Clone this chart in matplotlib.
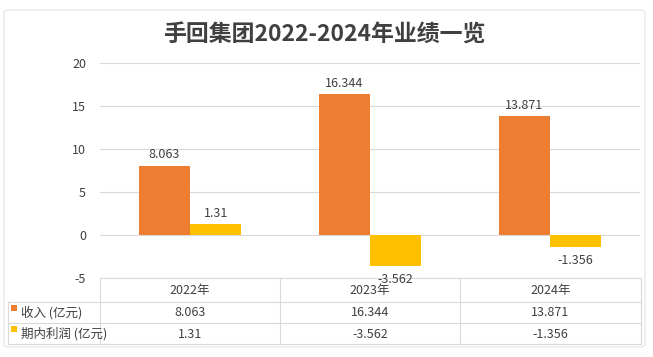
import matplotlib
matplotlib.use("Agg")
import matplotlib.pyplot as plt
import numpy as np
from matplotlib.patches import FancyBboxPatch, Rectangle
from matplotlib.lines import Line2D

plt.rcParams['font.family'] = ['Noto Sans CJK SC', 'DejaVu Sans']

title = "手回集团2022-2024年业绩一览"
categories = ["2022年", "2023年", "2024年"]
series_names = ["收入 (亿元)", "期内利润 (亿元)"]
revenue = [8.063, 16.344, 13.871]
profit = [1.31, -3.562, -1.356]
revenue_labels = ["8.063", "16.344", "13.871"]
profit_labels = ["1.31", "-3.562", "-1.356"]
yticks = [-5, 0, 5, 10, 15, 20]

ORANGE = "#ED7D31"
YELLOW = "#FFC000"
TEXT = "#404040"
GRID = "#D9D9D9"

W, H = 653, 357
fig = plt.figure(figsize=(W / 100, H / 100), dpi=100)
fig.patch.set_facecolor("white")

def fx(px):
    return px / W

def fy(py):
    return 1 - py / H

# outer frame
frame = FancyBboxPatch((fx(4), fy(347)), fx(645) - fx(4), fy(10) - fy(347),
                       boxstyle="round,pad=0,rounding_size=0.008",
                       transform=fig.transFigure, facecolor="none",
                       edgecolor="#E3E3E3", linewidth=0.8, zorder=-5)
fig.patches.append(frame)

left, right, top, bottom = 100, 640, 63, 278
ax = fig.add_axes([fx(left), fy(bottom), fx(right) - fx(left), fy(top) - fy(bottom)])
ax.set_facecolor("none")
ax.set_zorder(2)

x = np.arange(len(categories))
bw = 0.286
ax.bar(x - bw / 2, revenue, width=bw, color=ORANGE, zorder=3)
ax.bar(x + bw / 2, profit, width=bw, color=YELLOW, zorder=3)

for xi, v, lab in zip(x - bw / 2, revenue, revenue_labels):
    ax.annotate(lab, (xi, v), xytext=(0, 3), textcoords="offset points",
                ha="center", va="bottom", fontsize=9, color=TEXT)
for xi, v, lab in zip(x + bw / 2, profit, profit_labels):
    if v >= 0:
        ax.annotate(lab, (xi, v), xytext=(0, 3), textcoords="offset points",
                    ha="center", va="bottom", fontsize=9, color=TEXT)
    else:
        ax.annotate(lab, (xi, v), xytext=(0, -5), textcoords="offset points",
                    ha="center", va="top", fontsize=9, color=TEXT, zorder=5,
                    annotation_clip=False)

ax.set_xlim(-0.5, len(categories) - 0.5)
ax.set_ylim(-5, 20)
ax.set_yticks(yticks)
ax.set_yticklabels([str(t) for t in yticks], fontsize=9, color=TEXT)
ax.tick_params(axis="y", length=0, pad=10)
ax.set_xticks([])
ax.grid(axis="y", color=GRID, linewidth=0.8, zorder=0)
ax.set_axisbelow(True)
for s in ax.spines.values():
    s.set_visible(False)

fig.text(fx(324), fy(35), title, ha="center", va="center", fontsize=16.5,
         fontweight="heavy", color="#404040")

# data table
row_y = [278, 301.5, 322.5, 344]
col_x = [100, 280, 460, 641]
tleft = 8
lw = 0.8
fig.add_artist(Line2D([fx(col_x[0]), fx(col_x[-1])], [fy(row_y[0])] * 2, color=GRID, lw=lw))
for ry in row_y[1:]:
    fig.add_artist(Line2D([fx(tleft), fx(col_x[-1])], [fy(ry)] * 2, color=GRID, lw=lw))
for cx in col_x:
    fig.add_artist(Line2D([fx(cx)] * 2, [fy(row_y[0]), fy(row_y[-1])], color=GRID, lw=lw))
fig.add_artist(Line2D([fx(tleft)] * 2, [fy(row_y[1]), fy(row_y[-1])], color=GRID, lw=lw))

for i, c in enumerate(categories):
    fig.text(fx((col_x[i] + col_x[i + 1]) / 2), fy((row_y[0] + row_y[1]) / 2 + 1), c,
             ha="center", va="center", fontsize=9, color=TEXT)

rows = [(series_names[0], ORANGE, revenue_labels), (series_names[1], YELLOW, profit_labels)]
for r, (name, col, labs) in enumerate(rows):
    cy = (row_y[r + 1] + row_y[r + 2]) / 2
    fig.patches.append(Rectangle((fx(11), fy(cy - 1)), fx(6), fy(0) - fy(6),
                                 transform=fig.transFigure, facecolor=col, edgecolor="none"))
    fig.text(fx(21), fy(cy + 1), name, ha="left", va="center", fontsize=9, color=TEXT)
    for i, lab in enumerate(labs):
        fig.text(fx((col_x[i] + col_x[i + 1]) / 2), fy(cy + 1), lab,
                 ha="center", va="center", fontsize=9, color=TEXT)

fig.savefig("out.png", dpi=100, facecolor="white")
